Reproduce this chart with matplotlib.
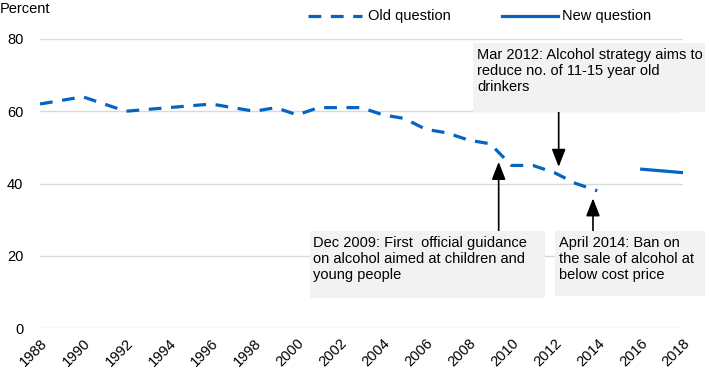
import matplotlib
matplotlib.use("Agg")
import matplotlib.pyplot as plt
from matplotlib.patches import Rectangle
from matplotlib.lines import Line2D

plt.rcParams['font.family'] = ['Liberation Sans', 'DejaVu Sans']

old_years = [1988, 1990, 1992, 1994, 1996, 1998, 1999, 2000, 2001, 2002, 2003,
             2004, 2005, 2006, 2007, 2008, 2009, 2010, 2011, 2012, 2013, 2014]
old_values = [62, 64, 60, 61, 62, 60, 61, 59, 61, 61, 61,
              59, 58, 55, 54, 52, 51, 45, 45, 43, 40, 38]
new_years = [2016, 2018]
new_values = [44, 43]
tick_years = list(range(1988, 2019, 2))
y_ticks = [0, 20, 40, 60, 80]

COLOR = '#0563C1'
W, H = 709, 384
fig = plt.figure(figsize=(W / 100, H / 100), dpi=100)
ax = fig.add_axes([40 / W, 1 - 328 / H, (683 - 40) / W, (328 - 39) / H])

ax.plot(old_years, old_values, color=COLOR, lw=2.3, linestyle=(0, (4, 3)),
        dash_capstyle='butt', zorder=3)
ax.plot(new_years, new_values, color=COLOR, lw=2.3, solid_capstyle='butt', zorder=3)

ax.set_xlim(1988, 2018)
ax.set_ylim(0, 80)
ax.set_yticks(y_ticks)
ax.set_xticks(tick_years)
ax.set_xticklabels([str(y) for y in tick_years], rotation=45, ha='right',
                   rotation_mode='anchor', fontsize=10.5)
ax.tick_params(axis='y', labelsize=10.5, length=0, pad=12)
ax.tick_params(axis='x', length=0, pad=6)
ax.grid(axis='y', color='#d9d9d9', lw=1)
ax.grid(axis='x', visible=False)
for s in ax.spines.values():
    s.set_visible(False)

fig.text(0, 1 - 9 / H, 'Percent', fontsize=10.5, va='center', ha='left')

# legend
fig.add_artist(Line2D([308 / W, 362 / W], [1 - 16 / H] * 2, color=COLOR, lw=2.3,
                      linestyle=(0, (4, 3)), transform=fig.transFigure))
fig.text(368 / W, 1 - 16 / H, 'Old question', fontsize=10.5, va='center')
fig.add_artist(Line2D([502 / W, 558 / W], [1 - 16 / H] * 2, color=COLOR, lw=2.3,
                      transform=fig.transFigure))
fig.text(562 / W, 1 - 16 / H, 'New question', fontsize=10.5, va='center')

def box(x0, y0, x1, y1, tx, ty, text):
    fig.add_artist(Rectangle((x0 / W, 1 - y1 / H), (x1 - x0) / W, (y1 - y0) / H,
                             transform=fig.transFigure, facecolor='#f2f2f2',
                             edgecolor='none', zorder=4))
    fig.text(tx / W, 1 - ty / H, text, fontsize=10.5, va='top', ha='left',
             linespacing=1.2, zorder=5)

box(473, 43, 705, 112, 477, 48,
    'Mar 2012: Alcohol strategy aims to\nreduce no. of 11-15 year old\ndrinkers')
box(310, 231, 545, 298, 313, 236,
    'Dec 2009: First  official guidance\non alcohol aimed at children and\nyoung people')
box(555, 231, 705, 296, 559, 236,
    'April 2014: Ban on\nthe sale of alcohol at\nbelow cost price')

arrow = dict(arrowstyle='-|>,head_length=0.9,head_width=0.35', color='black',
             lw=1.2, shrinkA=0, shrinkB=0, mutation_scale=12)
ax.annotate('', xy=(2012.2, 44.6), xytext=(2012.2, 59.8), arrowprops=arrow)
ax.annotate('', xy=(2009.4, 46.0), xytext=(2009.4, 26.85), arrowprops=arrow)
ax.annotate('', xy=(2013.8, 35.9), xytext=(2013.8, 26.85), arrowprops=arrow)

fig.savefig('out.png', dpi=100)
